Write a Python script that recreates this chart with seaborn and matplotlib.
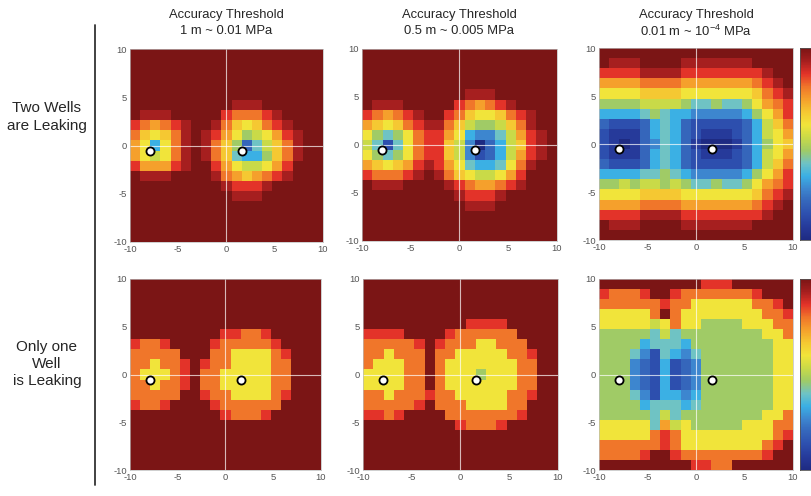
import numpy as np
import matplotlib
matplotlib.use("Agg")
import matplotlib.pyplot as plt
from matplotlib.colors import LinearSegmentedColormap
from matplotlib.lines import Line2D
import seaborn as sns

# misfit maps, one hex digit per cell (0 = deep blue ... f = dark red), 19 x 19 cells over -10..10 km
two_wells_1m = [
    "ffffff f ffffffffff ff",
    "ffffff f ffffffffff ff",
    "ffffff f ffffffffff ff",
    "ffffff f ffffffffff ff",
    "ffffff f ffffffffff ff",
    "ffffff f fffeeeffff ff",
    "feeeff f ffdcccdeff ff",
    "dcbcde f feca9acdef ff",
    "ca9ace f edb9789bde ff",
    "b959ce f eca7368ace ff",
    "b989ce f eca6557ace ff",
    "dbbbde f fdb9889bdf ff",
    "feeeff f fecbabcdef ff",
    "ffffff f ffedddefff ff",
    "ffffff f fffeeeffff ff",
    "ffffff f ffffffffff ff",
    "ffffff f ffffffffff ff",
    "ffffff f ffffffffff ff",
    "ffffff f ffffffffff ff",
]

two_wells_05m = [
    "fffffff fffffffffff f",
    "fffffff fffffffffff f",
    "fffffff fffffffffff f",
    "fffffff fffffffffff f",
    "fffffff fffeeefffff f",
    "feeefff ffdcbcdefff f",
    "dcbcdef fdca99acdef f",
    "ba9acde eca8778acef f",
    "97679cd db954468bde f",
    "86269cd da840358ade f",
    "97679cd da842358bde f",
    "ba9abde db965569cef f",
    "dcccdef eca9889bdff f",
    "feeefff fedcbbcdeff f",
    "fffffff ffedddeffff f",
    "fffffff fffeeefffff f",
    "fffffff fffffffffff f",
    "fffffff fffffffffff f",
    "fffffff fffffffffff f",
]

two_wells_001m = [
    "ffff ffff fffffff ffff",
    "feee ffff eeeeeee ffff",
    "dddd eeee ddddddd deff",
    "bbbb cccc bbbbbbb cdef",
    "9999 aaaa 9999999 acde",
    "7777 8888 7667667 9bcd",
    "5555 6765 5444445 79bd",
    "3222 3565 3222223 58ac",
    "2111 3565 3211123 589b",
    "2101 3465 3100013 579a",
    "2111 3565 3211123 589b",
    "3222 3565 3222223 58ac",
    "5555 6676 5444445 79bd",
    "7787 8878 7667667 9bcd",
    "9999 aaaa 9999999 acde",
    "bbbb cccc bbbbbbb cdef",
    "dddd eeee ddddddd deff",
    "feee ffff eeeeeee ffff",
    "ffff ffff fffffff ffff",
]

one_well_1m = [
    "ffffff f ffffffffff ff",
    "ffffff f ffffffffff ff",
    "ffffff f ffffffffff ff",
    "ffffff f ffffffffff ff",
    "ffffff f ffffffffff ff",
    "ffffff f ffddccdfff ff",
    "dccdff f fdcccccdff ff",
    "cccccf f fcc9999cdf ff",
    "cc9ccd f dcc9999ccf ff",
    "c999cd f cc99999ccf ff",
    "cc9ccd f cc99999ccf ff",
    "cccccf f dcc9999cdf ff",
    "dccdff f fdccccccff ff",
    "ffffff f ffdcccdfff ff",
    "ffffff f ffffffffff ff",
    "ffffff f ffffffffff ff",
    "ffffff f ffffffffff ff",
    "ffffff f ffffffffff ff",
    "ffffff f ffffffffff ff",
]

one_well_05m = [
    "fffffff fffffffffff f",
    "fffffff fffffffffff f",
    "fffffff fffffffffff f",
    "fffffff fffffffffff f",
    "fffffff fffddddffff f",
    "ddddfff fdccccccfff f",
    "cccccdf dccc99cccff f",
    "cc9cccf cc99999ccdf f",
    "c999ccf c9999999ccf f",
    "9999ccf c9997999ccf f",
    "9999ccf c9999999ccf f",
    "cc9cccd cc99999ccdf f",
    "cccccdf ccc9999ccff f",
    "ddcdfff fcccccccdff f",
    "fffffff ffdcccdffff f",
    "fffffff fffffffffff f",
    "fffffff fffffffffff f",
    "fffffff fffffffffff f",
    "fffffff fffffffffff f",
]

one_well_001m = [
    "fffff ffff fdddffff ff",
    "dcccd ffdc ccccccdf ff",
    "ccccc cdcc 999999cc df",
    "99999 cfc9 9999999c cd",
    "99999 89c9 97777999 cc",
    "77777 6867 77777779 9c",
    "77775 6665 77777777 99",
    "77764 2654 67777777 99",
    "77743 2523 47777777 99",
    "77743 2523 47777777 99",
    "77743 2523 47777777 99",
    "77764 2554 57777777 99",
    "77775 6665 67777777 99",
    "77777 6867 77777779 9c",
    "99999 6b89 77777999 cc",
    "99999 cdc9 99999999 cd",
    "ccccc cdc9 9999999c df",
    "ccccd ffdc cccccccd ff",
    "fffff ffff ddccffff ff",
]

well_x = [-7.9, 1.6]
well_y = [-0.55, -0.55]
tick_values = [-10, -5, 0, 5, 10]
col_titles = ["1 m ~ 0.01 MPa", "0.5 m ~ 0.005 MPa", "0.01 m ~ 10$^{-4}$ MPa"]
row_labels = ["Two Wells\nare Leaking", "Only one\nWell\nis Leaking"]

level_colors = ["#1e2a82", "#263a9a", "#2d4fae", "#3566bb", "#3d86cf", "#3bb0e4",
                "#6fc3c4", "#a0cb66", "#c9da48", "#f1e43a", "#f5c832", "#f5a02c",
                "#f0762a", "#e33329", "#a61f1f", "#7b1515"]
cmap = LinearSegmentedColormap.from_list("leak", level_colors)

sns.set_theme(style="white")
plt.rcParams["font.family"] = ["Liberation Sans", "DejaVu Sans"]
plt.rcParams["mathtext.default"] = "regular"

W, H = 812, 496
fig = plt.figure(figsize=(W / 100, H / 100), dpi=100)


def px_axes(x0, y0, x1, y1):
    return fig.add_axes([x0 / W, 1 - y1 / H, (x1 - x0) / W, (y1 - y0) / H])


def to_grid(rows):
    return np.array([[int(c, 16) for c in r.replace(" ", "")] for r in rows])


n = 19


def km_col(v):
    return (v + 10) / 20 * n


def km_row(v):
    return (10 - v) / 20 * n


panels = [
    (two_wells_1m, (130, 49, 323, 242)),
    (two_wells_05m, (362, 49, 557, 241)),
    (two_wells_001m, (599, 48, 793, 240)),
    (one_well_1m, (130, 279, 321, 470)),
    (one_well_05m, (363, 279, 558, 470)),
    (one_well_001m, (599, 279, 793, 470)),
]

for i, (rows, box) in enumerate(panels):
    ax = px_axes(*box)
    sns.heatmap(to_grid(rows), ax=ax, cmap=cmap, vmin=0, vmax=15, cbar=False,
                xticklabels=False, yticklabels=False)
    ax.axvline(km_col(0), color="white", lw=0.8, alpha=0.7)
    ax.axhline(km_row(0), color="white", lw=0.8, alpha=0.7)
    sns.scatterplot(x=[km_col(v) for v in well_x], y=[km_row(v) for v in well_y], ax=ax,
                    s=34, color="white", edgecolor="black", linewidth=1.3, zorder=5,
                    legend=False)
    ax.set_xlim(0, n)
    ax.set_ylim(n, 0)
    ax.set_xticks([km_col(t) for t in tick_values])
    ax.set_xticklabels([str(t) for t in tick_values], rotation=0)
    ax.set_yticks([km_row(t) for t in tick_values])
    ax.set_yticklabels([str(t) for t in tick_values], rotation=0)
    ax.tick_params(labelsize=6.8, colors="#555555", length=0, pad=2)
    ax.set_xlabel("X (Km)", fontsize=6.6, color="#555555", labelpad=1)
    ax.set_ylabel("Y (Km)", fontsize=6.6, color="#555555", labelpad=2)
    for s in ax.spines.values():
        s.set_visible(True)
        s.set_color("#bbbbbb")
        s.set_linewidth(0.5)
    if i % 3 == 2:
        cax = px_axes(800, box[1], 830, box[3])
        cb = fig.colorbar(ax.collections[0], cax=cax)
        cb.outline.set_linewidth(0.6)
        cb.outline.set_edgecolor("#555555")
        cb.set_ticks([])

for (rows, box), sub in zip(panels[:3], col_titles):
    cx = (box[0] + box[2]) / 2 / W
    fig.text(cx, 1 - 15 / H, "Accuracy Threshold", ha="center", va="center", fontsize=9.4)
    fig.text(cx, 1 - 31 / H, sub, ha="center", va="center", fontsize=9.4)

fig.text(47 / W, 1 - 117 / H, row_labels[0], ha="center", va="center", fontsize=11,
         linespacing=1.3)
fig.text(47 / W, 1 - 364 / H, row_labels[1], ha="center", va="center", fontsize=11,
         linespacing=1.3)

fig.add_artist(Line2D([95 / W, 95 / W], [1 - 25 / H, 1 - 485 / H], color="#333333",
                      lw=1.3, transform=fig.transFigure))

fig.savefig("out.png", dpi=100)
